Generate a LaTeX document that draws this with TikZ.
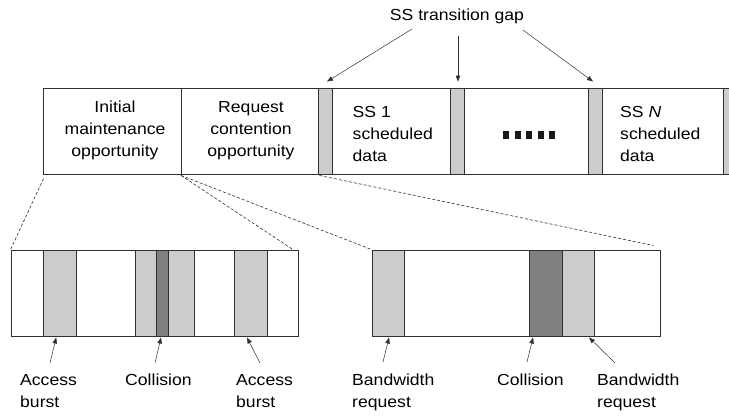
\documentclass[tikz,border=0pt]{standalone}
\usepackage{fontspec}
\setmainfont{Liberation Sans}[FakeStretch=1.1]
\usetikzlibrary{arrows.meta,calc}
\definecolor{lg}{HTML}{CCCCCC}
\definecolor{dg}{HTML}{808080}
\definecolor{ln}{HTML}{303030}
\newcommand{\ctxt}[1]{\begin{tabular}[t]{@{}c@{}}#1\end{tabular}}
\newcommand{\ltxt}[1]{\begin{tabular}[t]{@{}l@{}}#1\end{tabular}}
\begin{document}
\begin{tikzpicture}[x=1pt,y=-1pt,
  box/.style={draw=ln,line width=0.9pt,inner sep=0pt,minimum height=86pt},
  lbar/.style={box,fill=lg},
  dbar/.style={box,fill=dg},
  txt/.style={inner sep=0pt,font=\fontsize{16}{22}\selectfont},
  arr/.style={draw=ln,line width=0.5pt,-{Triangle[length=6pt,width=4.5pt]}},
  zoomline/.style={draw=ln,line width=0.6pt,densely dashed}]
\useasboundingbox (0,0) rectangle (729,416);
\clip (0,0) rectangle (729,416);
% top frame
\node[box,minimum width=138.5pt] (im) at (112.25,131) {};
\node[box,minimum width=136.5pt] (rc) at (249.75,131) {};
\node[box,minimum width=118pt] (ss1) at (391,131) {};
\node[box,minimum width=124pt] (dt) at (526,131) {};
\node[box,minimum width=121pt] (ssn) at (662.5,131) {};
\node[lbar,minimum width=14pt] (g1) at (325,131) {};
\node[lbar,minimum width=14pt] (g2) at (457,131) {};
\node[lbar,minimum width=14pt] (g3) at (595,131) {};
\node[lbar,minimum width=14pt] (g4) at (730,131) {};
\node[txt,anchor=base] (t-im) at (115,112) {\ctxt{Initial\\maintenance\\opportunity}};
\node[txt,anchor=base] (t-rc) at (251,112) {\ctxt{Request\\contention\\opportunity}};
\node[txt,anchor=base west] (t-ss1) at (352.5,117) {\ltxt{SS 1\\scheduled\\data}};
\node[txt,anchor=base west] (t-ssn) at (620,117) {\ltxt{SS \textit{N}\\scheduled\\data}};
\foreach \i in {0,...,4} \fill[black!90] ({503+11.5*\i},130.5) rectangle +(6,8);
% gap label
\node[txt,anchor=base] (gap) at (457,20.5) {SS transition gap};
\coordinate (ga1) at (412,29);
\coordinate (ga2) at (458,36);
\coordinate (ga3) at (523,30);
\draw[arr] (ga1) -- ($(g1.north)+(2,-6)$);
\draw[arr] (ga2) -- ($(g2.north)+(1,-6)$);
\draw[arr] (ga3) -- ($(g3.north)+(-2,-6)$);
% bottom boxes
\node[box,minimum width=287pt] (b1) at (154.5,293) {};
\node[lbar,minimum width=33pt] (a1) at (60.2,293) {};
\node[lbar,minimum width=21pt] (c1l) at (145.5,293) {};
\node[lbar,minimum width=26pt] (c1r) at (181,293) {};
\node[dbar,minimum width=12pt] (c1d) at (162,293) {};
\node[lbar,minimum width=33pt] (a2) at (250.5,293) {};
\node[box,minimum width=288pt] (b2) at (516,293) {};
\node[lbar,minimum width=32pt] (r1) at (388,293) {};
\node[dbar,minimum width=33pt] (c2d) at (545.5,293) {};
\node[lbar,minimum width=32pt] (r2) at (578,293) {};
% zoom lines
\draw[zoomline] ($(im.south west)+(1,4)$) -- (b1.north west);
\draw[zoomline] ($(rc.south west)+(0,1)$) -- ($(b1.north east)+(-4,1)$);
\draw[zoomline] ($(rc.south west)+(0,1)$) -- (b2.north west);
\draw[zoomline] ($(g1.south west)+(2,1)$) -- ($(b2.north east)+(-7,-4)$);
% bottom labels
\node[txt,anchor=base west] (l-a1) at (20,385) {\ltxt{Access\\burst}};
\node[txt,anchor=base west] (l-c1) at (125,385) {Collision};
\node[txt,anchor=base west] (l-a2) at (236,385) {\ltxt{Access\\burst}};
\node[txt,anchor=base west] (l-r1) at (352,385) {\ltxt{Bandwidth\\request}};
\node[txt,anchor=base west] (l-c2) at (497,385) {Collision};
\node[txt,anchor=base west] (l-r2) at (597,385) {\ltxt{Bandwidth\\request}};
\coordinate (q1) at (50,363);
\coordinate (q2) at (155,363);
\coordinate (q3) at (260,363);
\coordinate (q4) at (383,362);
\coordinate (q5) at (527,362);
\coordinate (q6) at (615,363);
\draw[arr] (q1) -- ($(a1.south)+(-4,1)$);
\draw[arr] (q2) -- ($(c1d.south)+(-1,1)$);
\draw[arr] (q3) -- ($(a2.south)+(-3.5,1)$);
\draw[arr] (q4) -- ($(r1.south)+(1,1)$);
\draw[arr] (q5) -- ($(c2d.south)+(-12.5,1)$);
\draw[arr] (q6) -- ($(r2.south)+(11,1)$);
\end{tikzpicture}
\end{document}
